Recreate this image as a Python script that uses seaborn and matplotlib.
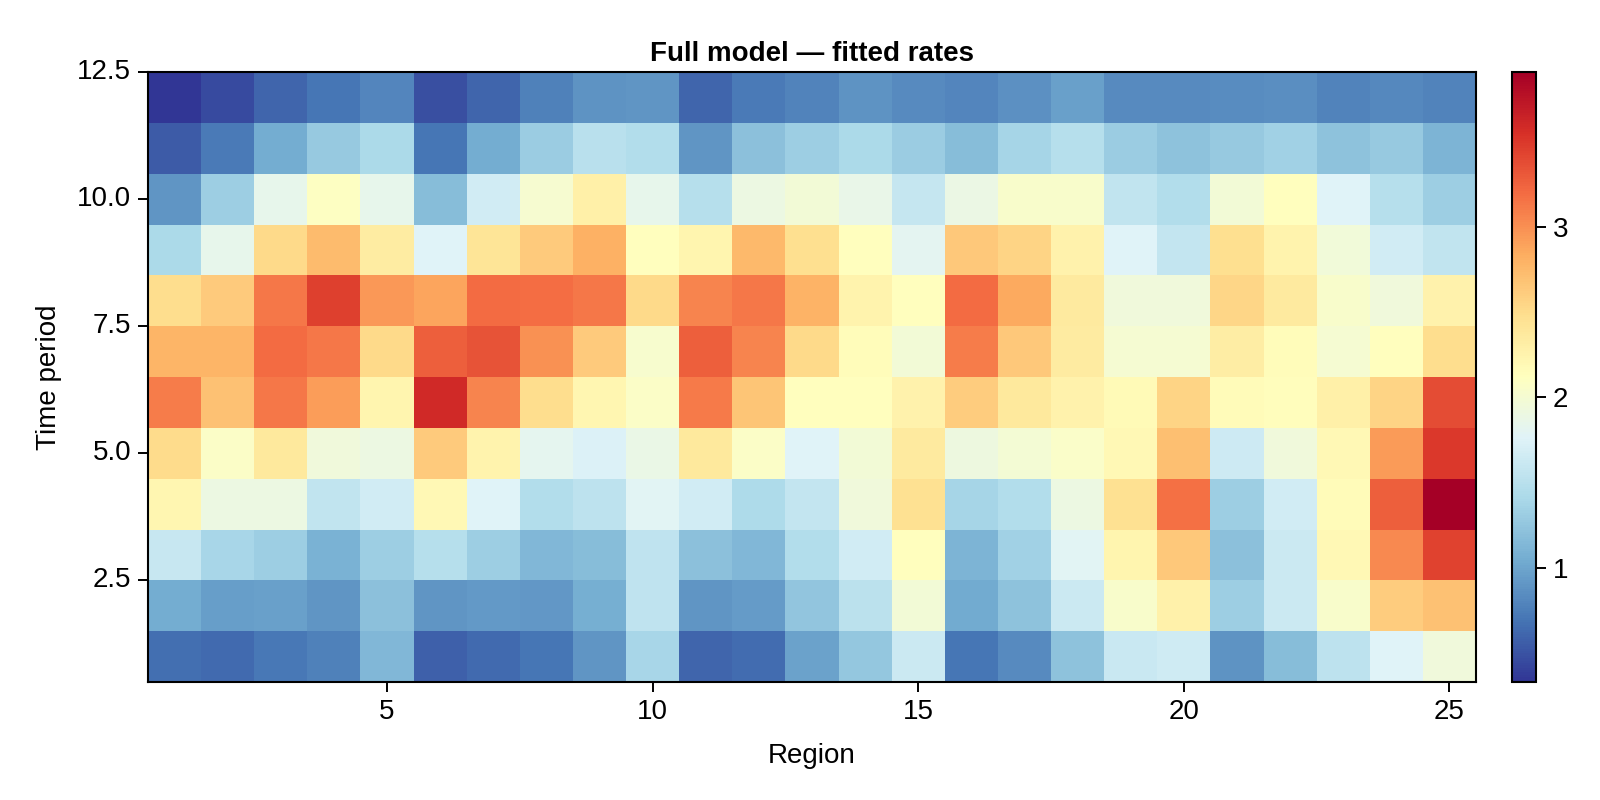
import numpy as np
import pandas as pd
import seaborn as sns
from matplotlib import pyplot as plt

# fitted rate per region (columns) for each time period (rows, bottom to top)
regions = list(range(1, 26))
periods = list(range(1, 13))

period_01 = [0.66, 0.63, 0.72, 0.77, 1.14, 0.57, 0.63, 0.70, 0.90, 1.38, 0.60, 0.65, 0.98,
             1.26, 1.62, 0.70, 0.83, 1.22, 1.61, 1.65, 0.88, 1.18, 1.52, 1.76, 1.94]
period_02 = [1.05, 0.95, 0.97, 0.90, 1.21, 0.89, 0.93, 0.91, 1.06, 1.54, 0.90, 0.94, 1.25,
             1.51, 1.98, 1.03, 1.22, 1.62, 2.05, 2.28, 1.32, 1.63, 2.05, 2.62, 2.70]
period_03 = [1.60, 1.38, 1.31, 1.09, 1.31, 1.49, 1.31, 1.13, 1.18, 1.54, 1.20, 1.14, 1.45,
             1.67, 2.13, 1.10, 1.34, 1.79, 2.24, 2.64, 1.21, 1.62, 2.19, 3.03, 3.44]
period_04 = [2.22, 1.91, 1.91, 1.56, 1.67, 2.20, 1.77, 1.45, 1.52, 1.79, 1.67, 1.43, 1.57,
             1.95, 2.46, 1.37, 1.46, 1.91, 2.46, 3.18, 1.32, 1.67, 2.17, 3.28, 3.91]
period_05 = [2.50, 2.07, 2.38, 1.95, 1.91, 2.63, 2.25, 1.82, 1.74, 1.88, 2.38, 2.07, 1.77,
             1.98, 2.37, 1.92, 1.99, 2.06, 2.20, 2.72, 1.64, 1.95, 2.19, 2.94, 3.50]
period_06 = [3.10, 2.70, 3.13, 2.92, 2.24, 3.60, 3.06, 2.49, 2.23, 2.07, 3.12, 2.67, 2.13,
             2.13, 2.26, 2.62, 2.38, 2.27, 2.18, 2.56, 2.17, 2.14, 2.30, 2.56, 3.38]
period_07 = [2.78, 2.78, 3.20, 3.13, 2.52, 3.27, 3.35, 2.99, 2.63, 2.03, 3.27, 3.07, 2.52,
             2.16, 1.98, 3.10, 2.65, 2.35, 2.00, 2.00, 2.32, 2.16, 2.00, 2.12, 2.49]
period_08 = [2.49, 2.63, 3.13, 3.45, 2.95, 2.88, 3.20, 3.19, 3.13, 2.52, 3.06, 3.14, 2.80,
             2.25, 2.13, 3.20, 2.85, 2.37, 1.94, 1.94, 2.55, 2.37, 2.05, 1.95, 2.27]
period_09 = [1.41, 1.85, 2.52, 2.74, 2.34, 1.77, 2.42, 2.63, 2.81, 2.13, 2.24, 2.75, 2.48,
             2.13, 1.80, 2.64, 2.56, 2.27, 1.76, 1.57, 2.47, 2.25, 1.96, 1.67, 1.56]
period_10 = [0.90, 1.31, 1.85, 2.10, 1.85, 1.17, 1.67, 2.02, 2.30, 1.85, 1.49, 1.91, 1.98,
             1.86, 1.58, 1.89, 2.04, 2.04, 1.56, 1.45, 1.98, 2.13, 1.77, 1.48, 1.31]
period_11 = [0.55, 0.73, 1.05, 1.27, 1.41, 0.70, 1.05, 1.30, 1.50, 1.46, 0.90, 1.20, 1.32,
             1.41, 1.30, 1.18, 1.37, 1.49, 1.30, 1.22, 1.28, 1.34, 1.22, 1.28, 1.10]
period_12 = [0.33, 0.45, 0.60, 0.70, 0.80, 0.48, 0.60, 0.77, 0.88, 0.90, 0.60, 0.73, 0.78,
             0.88, 0.83, 0.80, 0.87, 0.97, 0.83, 0.83, 0.84, 0.86, 0.78, 0.81, 0.78]

x_ticks = [5, 10, 15, 20, 25]
y_ticks = [2.5, 5.0, 7.5, 10.0, 12.5]
cbar_ticks = [1, 2, 3]

rates = pd.DataFrame([period_01, period_02, period_03, period_04, period_05, period_06,
                      period_07, period_08, period_09, period_10, period_11, period_12],
                     index=periods, columns=regions)

sns.set_theme(style="white")
plt.rcParams['font.family'] = ['Liberation Sans', 'DejaVu Sans']

fig = plt.figure(figsize=(16, 8), dpi=100)
ax = fig.add_axes([148 / 1600, 118 / 800, 1328 / 1600, 610 / 800])
cax = fig.add_axes([1512 / 1600, 118 / 800, 24 / 1600, 610 / 800])

sns.heatmap(rates, cmap='RdYlBu_r', ax=ax, cbar_ax=cax, linewidths=0)
ax.invert_yaxis()

# cell i sits on [i-1, i] in heatmap coordinates, so value v is at v - 0.5
ax.set_xticks([t - 0.5 for t in x_ticks])
ax.set_xticklabels([str(t) for t in x_ticks], rotation=0)
ax.set_yticks([t - 0.5 for t in y_ticks])
ax.set_yticklabels([f'{t:.1f}' for t in y_ticks], rotation=0)

for s in ax.spines.values():
    s.set_visible(True)
    s.set_color('black')
    s.set_linewidth(1.5)
ax.tick_params(bottom=True, left=True, top=False, right=False, direction='out',
               length=7, width=1.4, color='black', labelsize=20, labelcolor='black', pad=5)

ax.set_xlabel('Region', fontsize=20, labelpad=13, color='black')
ax.set_ylabel('Time period', fontsize=20, labelpad=11, color='black')
ax.set_title('Full model — fitted rates', fontsize=20, fontweight='bold', pad=8, color='black')

cbar = ax.collections[0].colorbar
cbar.outline.set_visible(True)
cbar.outline.set_edgecolor('black')
cbar.outline.set_linewidth(1.5)
cbar.set_ticks(cbar_ticks)
cbar.set_ticklabels([str(t) for t in cbar_ticks])
cax.tick_params(right=True, left=False, direction='out', length=7, width=1.4,
                color='black', labelsize=20, labelcolor='black', pad=5)

plt.savefig('out.png', dpi=100)
